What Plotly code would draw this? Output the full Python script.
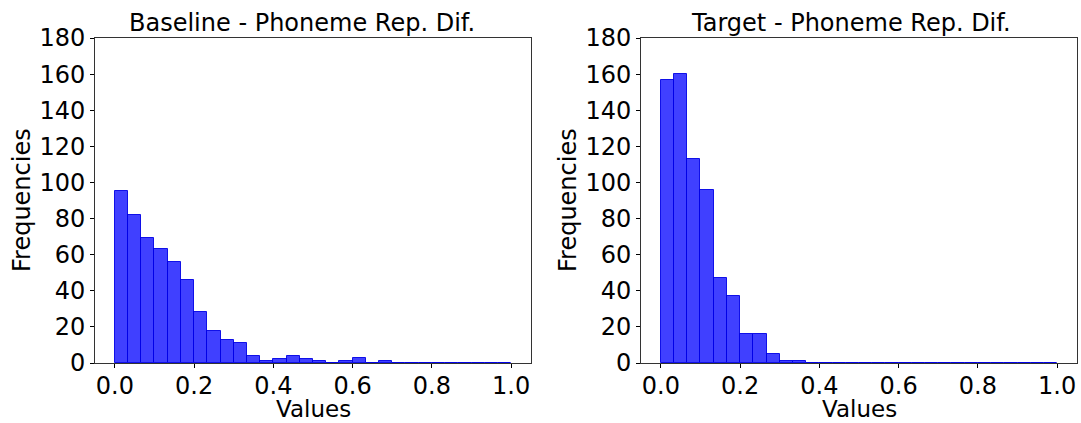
import numpy as np
import plotly.graph_objects as go

# Histogram counts (30 bins over [0, 1])
baseline_counts = [95, 82, 69, 63, 56, 46, 28, 18, 13, 11, 4, 1, 2, 4, 2, 1, 0, 1, 3, 0, 1,
                   0, 0, 0, 0, 0, 0, 0, 0, 0]
target_counts = [157, 160, 113, 96, 47, 37, 16, 16, 5, 1, 1, 0, 0, 0, 0, 0, 0, 0, 0, 0, 0,
                 0, 0, 0, 0, 0, 0, 0, 0, 0]
titles = ["Baseline - Phoneme Rep. Dif.", "Target - Phoneme Rep. Dif."]
x_ticks = [0.0, 0.2, 0.4, 0.6, 0.8, 1.0]
y_ticks = [0, 20, 40, 60, 80, 100, 120, 140, 160, 180]

edges = np.linspace(0, 1, len(baseline_counts) + 1)
centers = (edges[:-1] + edges[1:]) / 2
widths = np.diff(edges)

W, H = 1081, 423
FONT = "DejaVu Sans"
FS = 24

fig = go.Figure()
for i, counts in enumerate([baseline_counts, target_counts]):
    fig.add_trace(go.Bar(
        x=centers, y=counts, width=widths,
        marker=dict(color="rgba(0,0,255,0.75)", line=dict(color="rgba(0,0,230,0.9)", width=1)),
        xaxis="x" if i == 0 else "x2", yaxis="y" if i == 0 else "y2",
        showlegend=False,
    ))

dom_y = [1 - 363 / H, 1 - 38 / H]
axes_px = [(95, 531), (641, 1077)]
common_x = dict(range=[-0.05, 1.05], tickvals=x_ticks, ticktext=[f"{v:.1f}" for v in x_ticks],
                ticks="outside", ticklen=4, tickwidth=1, tickcolor="black",
                showline=True, linecolor="#333", linewidth=1, mirror=True,
                showgrid=False, zeroline=False, automargin=False, ticklabelstandoff=-3,
                tickfont=dict(family=FONT, size=FS, color="black"))
common_y = dict(range=[0, 180], tickvals=y_ticks,
                ticks="outside", ticklen=4, tickwidth=1, tickcolor="black",
                showline=True, linecolor="#333", linewidth=1, mirror=True,
                showgrid=False, zeroline=False, automargin=False,
                tickfont=dict(family=FONT, size=FS, color="black"))

fig.update_layout(
    width=W, height=H,
    margin=dict(l=0, r=0, t=0, b=0, pad=0, autoexpand=False),
    paper_bgcolor="white", plot_bgcolor="white",
    bargap=0,
    xaxis=dict(domain=[axes_px[0][0] / W, axes_px[0][1] / W], anchor="y", **common_x),
    yaxis=dict(domain=dom_y, anchor="x", **common_y),
    xaxis2=dict(domain=[axes_px[1][0] / W, axes_px[1][1] / W], anchor="y2", **common_x),
    yaxis2=dict(domain=dom_y, anchor="x2", **common_y),
)

title_cx = [302, 851]
for i in range(2):
    x0, x1 = axes_px[i]
    fig.add_annotation(text=titles[i], x=title_cx[i] / W, y=1 - 23 / H, xref="paper", yref="paper",
                       showarrow=False, xanchor="center", yanchor="middle",
                       font=dict(family=FONT, size=FS, color="black"))
    fig.add_annotation(text="Values", x=((x0 + x1) / 2) / W, y=0, xref="paper", yref="paper",
                       showarrow=False, xanchor="center", yanchor="bottom", borderpad=0,
                       font=dict(family=FONT, size=23, color="black"))
    fig.add_annotation(text="Frequencies", x=(x0 - 73) / W, y=1 - 200 / H, xref="paper", yref="paper",
                       showarrow=False, xanchor="center", yanchor="middle", textangle=-90,
                       font=dict(family=FONT, size=FS, color="black"))

fig.write_html("out.html")
